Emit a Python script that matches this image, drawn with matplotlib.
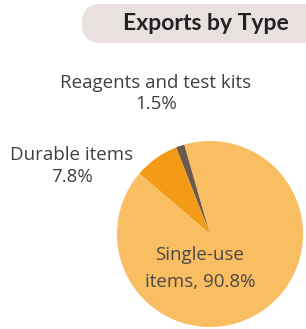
import matplotlib
matplotlib.use("Agg")
import matplotlib.pyplot as plt
from matplotlib.patches import FancyBboxPatch

W, H = 306, 329

labels = ["Reagents and test kits", "Durable items", "Single-use items"]
shares = [1.5, 7.8, 90.8]
colors = ["#6b5a4c", "#f39b17", "#f9bd62"]

TITLE = "Exports by Type"
INK = "#404040"

plt.rcParams["font.family"] = "Open Sans"

fig = plt.figure(figsize=(W / 100, H / 100), dpi=100, facecolor="white")

# pie
cx, cy, r = 210, 234, 93
ax = fig.add_axes([(cx - r) / W, (H - cy - r) / H, 2 * r / W, 2 * r / H])
ax.pie(shares, colors=colors, startangle=106, counterclock=True,
       wedgeprops={"linewidth": 0})
ax.set_xlim(-1, 1)
ax.set_ylim(-1, 1)
ax.set_aspect("equal")
ax.axis("off")

# overlay in pixel coordinates for the title pill and labels
bg = fig.add_axes([0, 0, 1, 1])
bg.set_zorder(3)
bg.set_xlim(0, W)
bg.set_ylim(H, 0)
bg.axis("off")

pill = FancyBboxPatch((82, 4), 260, 39, boxstyle="round,pad=0,rounding_size=19",
                      facecolor="#e9e0e0", edgecolor="none")
bg.add_patch(pill)
bg.text(206, 24, TITLE, ha="center", va="center", fontsize=16.5,
        fontweight="bold", color="#222222", family="Lato")

bg.text(156, 83, labels[0], ha="center", va="center", fontsize=13.5, color=INK)
bg.text(156, 104, f"{shares[0]}%", ha="center", va="center", fontsize=13.5, color=INK)
bg.text(72, 155, labels[1], ha="center", va="center", fontsize=13.5, color=INK)
bg.text(72, 177, f"{shares[1]}%", ha="center", va="center", fontsize=13.5, color=INK)

single = labels[2].split(" ")
bg.text(200, 255, single[0], ha="center", va="center", fontsize=13.5, color="#4a4a4a")
bg.text(200, 282, f"{single[1]}, {shares[2]}%", ha="center", va="center",
        fontsize=13.5, color="#4a4a4a")

fig.savefig("out.png", dpi=100, facecolor="white")
